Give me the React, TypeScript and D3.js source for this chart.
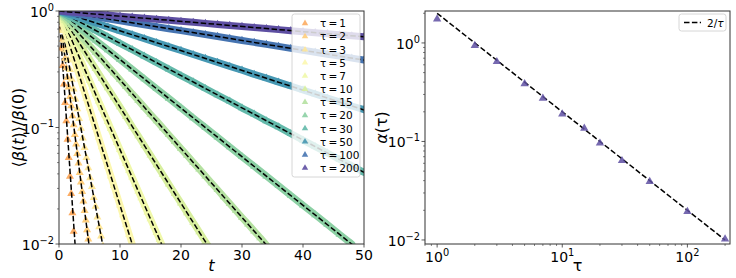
import React from 'react';
import * as d3 from 'd3';

// ---- data ----
const tauValues = [1, 2, 3, 5, 7, 10, 15, 20, 30, 50, 100, 200];
const alphaFit = [1.75, 0.94, 0.645, 0.384, 0.274, 0.19, 0.136, 0.096, 0.0638, 0.0391, 0.0194, 0.0102];
const sampleStep = [0.2, 0.2, 0.3, 0.5, 0.5, 1, 1, 2, 2, 2, 2, 2];
const colorPositions = [0.3, 0.364, 0.427, 0.491, 0.555, 0.618, 0.682, 0.745, 0.809, 0.873, 0.936, 1.0];

const decayTau1 = [1, 0.7, 0.48, 0.34, 0.235, 0.163, 0.114, 0.079, 0.055, 0.038, 0.027, 0.0185, 0.0128, 0.0089];
const decayTau2 = [1, 0.829, 0.687, 0.569, 0.471, 0.391, 0.324, 0.268, 0.222, 0.184, 0.153, 0.126, 0.105, 0.0868, 0.0719, 0.0596, 0.0494, 0.0409, 0.0339, 0.0281, 0.0233, 0.0193, 0.016, 0.0132, 0.011, 0.0091];
const decayTau3 = [1, 0.824, 0.679, 0.56, 0.461, 0.38, 0.313, 0.258, 0.213, 0.175, 0.144, 0.119, 0.098, 0.081, 0.067, 0.055, 0.045, 0.037, 0.031, 0.025, 0.021, 0.017, 0.014, 0.0117, 0.0096];
const decayTau5 = [1, 0.825, 0.681, 0.562, 0.464, 0.383, 0.316, 0.261, 0.215, 0.178, 0.147, 0.121, 0.1, 0.0825, 0.0681, 0.0562, 0.0464, 0.0383, 0.0316, 0.0261, 0.0215, 0.0178, 0.0147, 0.0121, 0.01];
const decayTau7 = [1, 0.872, 0.76, 0.663, 0.578, 0.504, 0.44, 0.383, 0.334, 0.291, 0.254, 0.222, 0.193, 0.168, 0.147, 0.128, 0.112, 0.0975, 0.085, 0.0741, 0.0646, 0.0564, 0.0491, 0.0429, 0.0374, 0.0326, 0.0284, 0.0248, 0.0216, 0.0188, 0.0164, 0.0143, 0.0125, 0.0109, 0.0095];
const decayTau10 = [1, 0.827, 0.684, 0.566, 0.468, 0.387, 0.32, 0.264, 0.219, 0.181, 0.15, 0.124, 0.102, 0.0846, 0.0699, 0.0578, 0.0478, 0.0396, 0.0327, 0.0271, 0.0224, 0.0185, 0.0153, 0.0127, 0.0105, 0.0087];
const decayTau15 = [1, 0.873, 0.762, 0.665, 0.58, 0.506, 0.442, 0.386, 0.337, 0.294, 0.257, 0.224, 0.195, 0.171, 0.149, 0.13, 0.114, 0.0992, 0.0866, 0.0756, 0.0659, 0.0576, 0.0502, 0.0439, 0.0383, 0.0334, 0.0292, 0.0254, 0.0222, 0.0194, 0.0169, 0.0148, 0.0129, 0.0113, 0.0098];
const decayTau20 = [1, 0.825, 0.681, 0.562, 0.464, 0.383, 0.316, 0.261, 0.215, 0.178, 0.147, 0.121, 0.1, 0.0825, 0.0681, 0.0562, 0.0464, 0.0383, 0.0316, 0.0261, 0.0215, 0.0178, 0.0147, 0.0121, 0.01];
const decayTau30 = [1, 0.88, 0.775, 0.682, 0.6, 0.528, 0.465, 0.409, 0.36, 0.317, 0.279, 0.246, 0.216, 0.19, 0.168, 0.147, 0.13, 0.114, 0.101, 0.0885, 0.0779, 0.0686, 0.0604, 0.0531, 0.0468, 0.0412];
const decayTau50 = [1, 0.925, 0.855, 0.791, 0.731, 0.676, 0.626, 0.579, 0.535, 0.495, 0.458, 0.423, 0.391, 0.362, 0.335, 0.31, 0.286, 0.265, 0.245, 0.227, 0.21, 0.194, 0.179, 0.166, 0.153, 0.142];
const decayTau100 = [1, 0.962, 0.925, 0.89, 0.856, 0.824, 0.792, 0.762, 0.733, 0.705, 0.678, 0.653, 0.628, 0.604, 0.581, 0.559, 0.538, 0.517, 0.497, 0.478, 0.46, 0.443, 0.426, 0.41, 0.394, 0.379];
const decayTau200 = [1, 0.98, 0.96, 0.941, 0.922, 0.903, 0.885, 0.867, 0.849, 0.832, 0.815, 0.799, 0.783, 0.767, 0.751, 0.736, 0.721, 0.707, 0.692, 0.678, 0.665, 0.651, 0.638, 0.625, 0.612, 0.6];
const decaySeries = [decayTau1, decayTau2, decayTau3, decayTau5, decayTau7, decayTau10, decayTau15, decayTau20, decayTau30, decayTau50, decayTau100, decayTau200];

const alphaMeasured = [1.75, 0.94, 0.645, 0.384, 0.274, 0.19, 0.136, 0.096, 0.0638, 0.0391, 0.0194, 0.0102];

const leftXTicks = [0, 10, 20, 30, 40, 50];
const leftYMajor = [1, 0.1, 0.01];
const leftYExp = ['0', '−1', '−2'];
const rightXMajor = [1, 10, 100];
const rightXExp = ['0', '1', '2'];
const rightYMajor = [1, 0.1, 0.01];
const rightYExp = ['0', '−1', '−2'];

const FONT = 'DejaVu Sans, sans-serif';
const AX = '#333';

function minorLogTicks(lo: number, hi: number): number[] {
  const out: number[] = [];
  for (let e = -4; e <= 4; e++) {
    for (let m = 2; m <= 9; m++) {
      const v = m * Math.pow(10, e);
      if (v >= lo && v <= hi) out.push(v);
    }
  }
  return out;
}

const Pow10 = ({ x, y, exp, anchor, size }: { x: number; y: number; exp: string; anchor: string; size: number }) => (
  <text x={x} y={y} textAnchor={anchor as any} fontFamily={FONT} fontSize={size} fill="#000">
    <tspan>10</tspan>
    <tspan dy={-size * 0.45} fontSize={size * 0.7}>{exp}</tspan>
  </text>
);

export default function App() {
  const L = { x0: 59, x1: 364, y0: 11, y1: 244 };
  const lx = d3.scaleLinear().domain([0, 50]).range([L.x0, L.x1]);
  const ly = d3.scaleLog().domain([0.01, 1]).range([L.y1, L.y0]);
  const R = { x0: 425, x1: 730, y0: 11, y1: 244 };
  const rx = d3.scaleLog().domain([0.8, 219]).range([R.x0, R.x1]);
  const ry = d3.scaleLog().domain([0.0091, 2.11]).range([R.y1, R.y0]);

  const colors = colorPositions.map((p) => d3.interpolateSpectral(p));
  const tri = d3.symbol().type(d3.symbolTriangle);
  const triSmall = tri.size(28)() as string;
  const triLegend = tri.size(18)() as string;
  const triRight = tri.size(30)() as string;

  const line = d3
    .line<[number, number]>()
    .x((d) => lx(d[0]))
    .y((d) => ly(d[1]));

  const leftMinor = minorLogTicks(0.01, 1);
  const rightXMinor = minorLogTicks(0.8, 219);
  const rightYMinor = minorLogTicks(0.0091, 2.11);

  const legendY0 = 23.3;
  const legendDy = 13.15;

  const fitRight = d3
    .line<number>()
    .x((t) => rx(t))
    .y((t) => ry(2 / t));

  return (
    <svg width={736} height={278} style={{ position: 'absolute', left: 0, top: 0, background: '#fff' }}>
      <defs>
        <clipPath id="clipL">
          <rect x={L.x0} y={L.y0} width={L.x1 - L.x0} height={L.y1 - L.y0} />
        </clipPath>
        <clipPath id="clipR">
          <rect x={R.x0} y={R.y0} width={R.x1 - R.x0} height={R.y1 - R.y0} />
        </clipPath>
      </defs>
      <rect x={0} y={0} width={736} height={278} fill="#fff" />

      <g clipPath="url(#clipL)">
        {decaySeries.map((vals, i) => {
          const pts: [number, number][] = vals.map((v, k) => [k * sampleStep[i], v]);
          const a = alphaFit[i];
          const tEnd = Math.min(50, Math.log(1 / 0.008) / a);
          const fitPts: [number, number][] = [
            [0, 1],
            [tEnd, Math.exp(-a * tEnd)],
          ];
          return (
            <g key={i}>
              {i >= 3 && (
                <path
                  d={line(pts) as string}
                  fill="none"
                  stroke={colors[i]}
                  strokeOpacity={1}
                  strokeWidth={7}
                  strokeLinecap="round"
                  strokeLinejoin="round"
                />
              )}
              {pts.map((p, k) => (
                <path
                  key={k}
                  d={triSmall}
                  transform={`translate(${lx(p[0])},${ly(p[1])})`}
                  fill={colors[i]}
                  fillOpacity={1}
                />
              ))}
              <path d={line(fitPts) as string} fill="none" stroke="#000" strokeWidth={1.5} strokeDasharray="5.5,2.4" />
            </g>
          );
        })}
      </g>

      <rect x={L.x0} y={L.y0} width={L.x1 - L.x0} height={L.y1 - L.y0} fill="none" stroke={AX} strokeWidth={1} />
      {leftXTicks.map((t) => (
        <g key={t}>
          <line x1={lx(t)} x2={lx(t)} y1={L.y1} y2={L.y1 + 3.5} stroke={AX} strokeWidth={0.8} />
          <text x={lx(t)} y={L.y1 + 16} textAnchor="middle" fontFamily={FONT} fontSize={14}>
            {t}
          </text>
        </g>
      ))}
      {leftYMajor.map((v, i) => (
        <g key={v}>
          <line x1={L.x0 - 3.5} x2={L.x0} y1={ly(v)} y2={ly(v)} stroke={AX} strokeWidth={0.8} />
          <Pow10 x={L.x0 - 5} y={ly(v) + 6} exp={leftYExp[i]} anchor="end" size={14} />
        </g>
      ))}
      {leftMinor.map((v) => (
        <line key={v} x1={L.x0 - 2} x2={L.x0} y1={ly(v)} y2={ly(v)} stroke={AX} strokeWidth={0.6} />
      ))}
      <text x={lx(25)} y={271} textAnchor="middle" fontFamily={FONT} fontSize={16} fontStyle="italic">
        t
      </text>
      <text
        transform={`translate(18,${(L.y0 + L.y1) / 2}) rotate(-90)`}
        textAnchor="middle"
        dominantBaseline="central"
        fontFamily={FONT}
        fontSize={16}
      >
        ⟨<tspan fontStyle="italic">β</tspan>(<tspan fontStyle="italic">t</tspan>)⟩/<tspan fontStyle="italic">β</tspan>(0)
      </text>

      <g>
        <rect x={292} y={14} width={68} height={163} rx={2.5} fill="#fff" fillOpacity={0.8} stroke="#ccc" strokeWidth={0.8} />
        {tauValues.map((tau, i) => (
          <g key={tau}>
            <path d={triLegend} transform={`translate(305,${legendY0 + i * legendDy})`} fill={colors[i]} fillOpacity={0.9} />
            <text x={320} y={legendY0 + i * legendDy} dominantBaseline="central" fontFamily={FONT} fontSize={10.5}>
              {`τ\u2009=\u2009${tau}`}
            </text>
          </g>
        ))}
      </g>

      <g clipPath="url(#clipR)">
        <path d={fitRight([1, 200]) as string} fill="none" stroke="#000" strokeWidth={1.5} strokeDasharray="5.5,2.4" />
        {tauValues.map((tau, i) => (
          <path
            key={tau}
            d={triRight}
            transform={`translate(${rx(tau)},${ry(alphaMeasured[i])})`}
            fill="#5e4fa2"
            fillOpacity={0.85}
          />
        ))}
      </g>
      <rect x={R.x0} y={R.y0} width={R.x1 - R.x0} height={R.y1 - R.y0} fill="none" stroke={AX} strokeWidth={1} />
      {rightXMajor.map((v, i) => (
        <g key={v}>
          <line x1={rx(v)} x2={rx(v)} y1={R.y1} y2={R.y1 + 3.5} stroke={AX} strokeWidth={0.8} />
          <Pow10 x={rx(v)} y={R.y1 + 18} exp={rightXExp[i]} anchor="middle" size={14} />
        </g>
      ))}
      {rightXMinor.map((v) => (
        <line key={v} x1={rx(v)} x2={rx(v)} y1={R.y1} y2={R.y1 + 2} stroke={AX} strokeWidth={0.6} />
      ))}
      {rightYMajor.map((v, i) => (
        <g key={v}>
          <line x1={R.x0 - 3.5} x2={R.x0} y1={ry(v)} y2={ry(v)} stroke={AX} strokeWidth={0.8} />
          <Pow10 x={R.x0 - 5} y={ry(v) + 6} exp={rightYExp[i]} anchor="end" size={14} />
        </g>
      ))}
      {rightYMinor.map((v) => (
        <line key={v} x1={R.x0 - 2} x2={R.x0} y1={ry(v)} y2={ry(v)} stroke={AX} strokeWidth={0.6} />
      ))}
      <text x={(R.x0 + R.x1) / 2} y={271} textAnchor="middle" fontFamily={FONT} fontSize={16}>
        τ
      </text>
      <text
        transform={`translate(381,${(R.y0 + R.y1) / 2}) rotate(-90)`}
        textAnchor="middle"
        dominantBaseline="central"
        fontFamily={FONT}
        fontSize={16}
      >
        <tspan fontStyle="italic">α</tspan>(τ)
      </text>

      <g>
        <rect x={679} y={14} width={47} height={17} rx={2.5} fill="#fff" fillOpacity={0.8} stroke="#ccc" strokeWidth={0.8} />
        <line x1={684} x2={701} y1={22.5} y2={22.5} stroke="#000" strokeWidth={1.5} strokeDasharray="5.5,2.4" />
        <text x={707} y={22.5} dominantBaseline="central" fontFamily={FONT} fontSize={10.5}>
          2/<tspan fontStyle="italic">τ</tspan>
        </text>
      </g>
    </svg>
  );
}
